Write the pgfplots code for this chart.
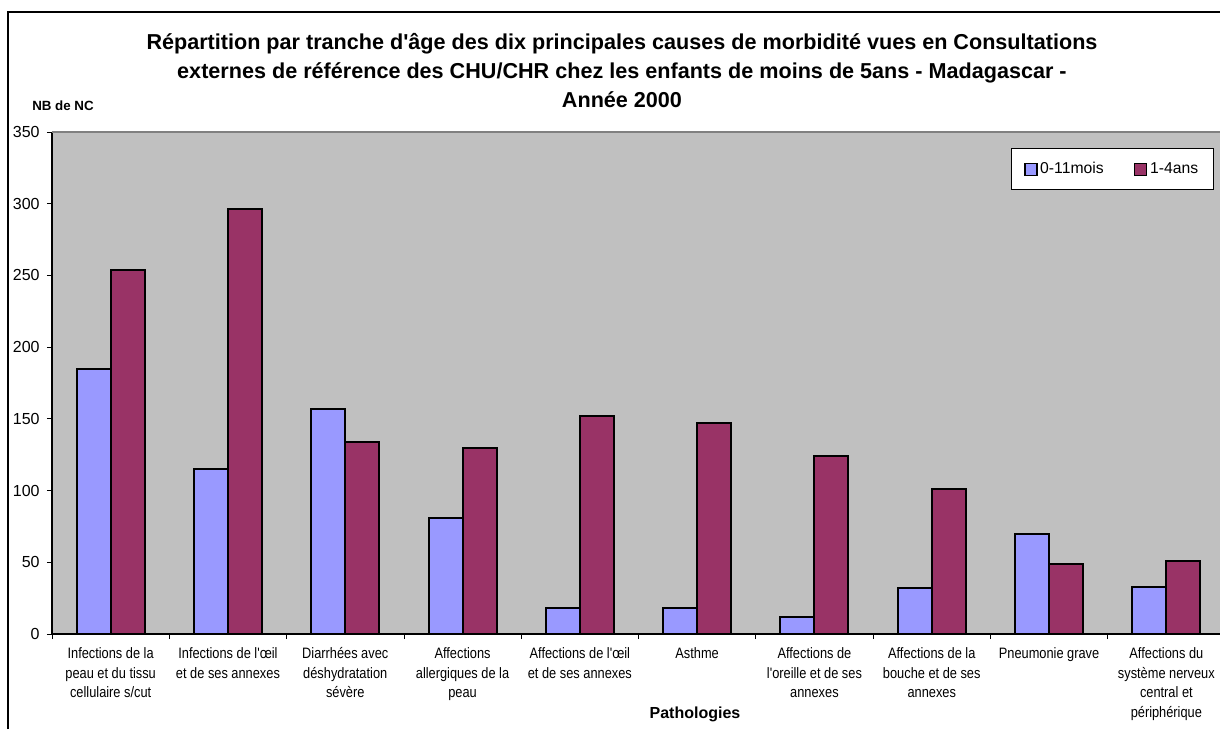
\documentclass[border=0pt]{standalone}
\usepackage{fontspec}
\setmainfont{Liberation Sans}[Ligatures=TeXOff]
\newfontfamily\narrowfont{Liberation Sans}[FakeStretch=0.85, Ligatures=TeXOff]
\usepackage{pgfplots}
\pgfplotsset{compat=1.18}
\definecolor{bblue}{HTML}{9999FF}
\definecolor{bred}{HTML}{993366}
\definecolor{pgray}{HTML}{C0C0C0}
\definecolor{bgray}{HTML}{808080}
\begin{document}
\begin{tikzpicture}[x=0.75pt,y=0.75pt]
\useasboundingbox (0,0) rectangle (1220,729);
\draw[line width=1.2pt] (8,0) -- (8,717) -- (1220,717);
\begin{axis}[
  at={(39pt,71.25pt)}, anchor=south west,
  scale only axis, width=879.75pt, height=376.5pt,
  xmin=-0.5, xmax=9.5, ymin=0, ymax=350,
  ytick={0,50,...,350},
  /pgf/number format/assume math mode=true,
  xtick={0,...,9},
  xticklabels={
    {Infections de la\\peau et du tissu\\cellulaire s/cut},
    {Infections de l'œil\\et de ses annexes},
    {Diarrhées avec\\déshydratation\\sévère},
    {Affections\\allergiques de la\\peau},
    {Affections de l'œil\\et de ses annexes},
    {Asthme},
    {Affections de\\l'oreille et de ses\\annexes},
    {Affections de la\\bouche et de ses\\annexes},
    {Pneumonie grave},
    {Affections du\\système nerveux\\central et\\périphérique}},
  major x tick style={draw=none},
  minor xtick={-0.5,0.5,...,9.5},
  tick align=outside,
  major tick length=3.75pt, minor tick length=3.75pt,
  tick style={black, line width=0.6pt},
  axis lines*=left,
  axis line style={black, line width=0.8pt},
  axis background/.style={fill=pgray},
  x tick label style={font=\narrowfont\fontsize{11.3}{14.6}\selectfont, align=center, yshift=-3pt},
  y tick label style={font=\fontsize{12}{13}\selectfont, xshift=-2pt},
  ybar=0pt, bar width=25.5pt,
  legend style={at={(rel axis cs:0.9906,0.968)}, anchor=north east,
    draw=black, fill=white, line width=0.6pt, legend columns=2,
    font=\fontsize{11.8}{13}\selectfont,
    inner xsep=9.5pt, inner ysep=8.5pt,
    /tikz/every even column/.append style={column sep=21pt}},
  legend image code/.code={\draw[#1, line width=0.8pt] (0pt,-4.5pt) rectangle (9pt,4.5pt);},
]
\addplot[fill=bblue, draw=black, line width=1.5pt] coordinates {
  (0,185) (1,115) (2,157) (3,81) (4,18) (5,18) (6,12) (7,32) (8,70) (9,33)};
\addplot[fill=bred, draw=black, line width=1.5pt] coordinates {
  (0,254) (1,296) (2,134) (3,130) (4,152) (5,147) (6,124) (7,101) (8,49) (9,51)};
\legend{0-11mois,1-4ans}
\draw[bgray, line width=1.5pt] (rel axis cs:0,1) -- (rel axis cs:1,1);
\end{axis}
\node[align=center, font=\bfseries\fontsize{16.2}{21.75}\selectfont] at (622,658)
  {Répartition par tranche d'âge des dix principales causes de morbidité vues en Consultations\\
   externes de référence des CHU/CHR chez les enfants de moins de 5ans - Madagascar -\\
   Année 2000};
\node[anchor=west, font=\bfseries\fontsize{10}{12}\selectfont, inner sep=0pt] at (32,623) {NB de NC};
\node[font=\bfseries\fontsize{12}{14}\selectfont] at (695,15) {Pathologies};
\end{tikzpicture}
\end{document}
